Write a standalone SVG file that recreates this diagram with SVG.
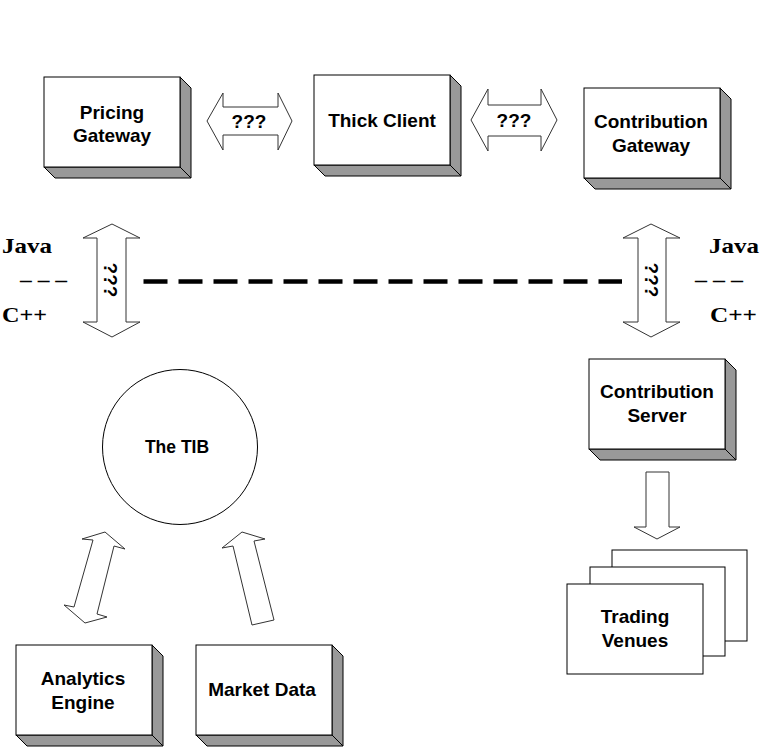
<svg xmlns="http://www.w3.org/2000/svg" xmlns:xlink="http://www.w3.org/1999/xlink" width="762" height="747" viewBox="0 0 762 747">
<style>
  .face{fill:#ffffff;stroke:#000000;stroke-width:1}
  .shade{fill:#999999;stroke:#000000;stroke-width:1;stroke-linejoin:miter}
  .lbl{font-family:"Liberation Sans",Arial,sans-serif;font-weight:bold;font-size:19px;fill:#000000;text-anchor:middle}
  .lang{font-family:"Liberation Serif","Times New Roman",serif;font-weight:bold;font-size:21px;fill:#000000}
  .arr{fill:#ffffff;stroke:#333333;stroke-width:1;stroke-linejoin:miter}
  .dash{fill:none;stroke:#000000;stroke-width:4.5;stroke-dasharray:24 11}
</style>
<defs>
  <g id="box3d">
    <polygon class="shade" points="136,0 147,11 147,101 136,90"/>
    <polygon class="shade" points="0,90 136,90 147,101 11,101"/>
    <rect class="face" x="0" y="0" width="136" height="90"/>
  </g>
</defs>

<g id="connectors">
  <path class="arr" d="M207,121 L223,93 L223,107 L278,107 L278,93 L292,121 L278,150 L278,135 L223,135 L223,150 Z"/>
  <text class="lbl" x="249" y="128">???</text>
  <path class="arr" d="M471,120 L488,89 L488,105 L541,105 L541,89 L557,120 L541,151 L541,136 L488,136 L488,151 Z"/>
  <text class="lbl" x="514" y="127">???</text>
  <path class="arr" d="M112,224 L140,238 L126,238 L126,322 L140,322 L112,337 L83,322 L97,322 L97,238 L83,238 Z"/>
  <text class="lbl" x="0" y="0" dominant-baseline="central" transform="translate(110,280) rotate(90)">???</text>
  <path class="arr" d="M651,224 L680,238 L666,238 L666,322 L680,322 L651,337 L623,322 L638,322 L638,238 L623,238 Z"/>
  <text class="lbl" x="0" y="0" dominant-baseline="central" transform="translate(651,280) rotate(90)">???</text>
  <line class="dash" x1="143.5" y1="281.5" x2="622" y2="281.5"/>
  <path class="arr" d="M105,532 L125,549 L114,546 L97,614 L107,617 L85,623 L64,605 L74,607 L93,540 L82,539 Z"/>
  <path class="arr" d="M242,532 L265,539 L254,541 L274,620 L252,625 L233,546 L222,548 Z"/>
  <path class="arr" d="M646,472 L669,472 L669,527 L680,527 L657,539 L634,527 L646,527 Z"/>
</g>

<g id="lang-left">
  <text class="lang" x="2" y="253" textLength="50" lengthAdjust="spacingAndGlyphs">Java</text>
  <text class="lang" x="20" y="287" textLength="47" lengthAdjust="spacingAndGlyphs">– – –</text>
  <text class="lang" x="2" y="322" textLength="45" lengthAdjust="spacingAndGlyphs">C++</text>
</g>
<g id="lang-right">
  <text class="lang" x="709" y="253" textLength="50" lengthAdjust="spacingAndGlyphs">Java</text>
  <text class="lang" x="695" y="287" textLength="48" lengthAdjust="spacingAndGlyphs">– – –</text>
  <text class="lang" x="710" y="322" textLength="47" lengthAdjust="spacingAndGlyphs">C++</text>
</g>

<g id="pricing-gateway">
  <use xlink:href="#box3d" href="#box3d" transform="translate(44,77)"/>
  <text class="lbl" x="112" y="119">Pricing</text>
  <text class="lbl" x="112" y="142">Gateway</text>
</g>
<g id="thick-client">
  <use xlink:href="#box3d" href="#box3d" transform="translate(314,75)"/>
  <text class="lbl" x="382" y="126.5">Thick Client</text>
</g>
<g id="contribution-gateway">
  <use xlink:href="#box3d" href="#box3d" transform="translate(584,88)"/>
  <text class="lbl" x="651" y="128">Contribution</text>
  <text class="lbl" x="651" y="152">Gateway</text>
</g>
<g id="contribution-server">
  <use xlink:href="#box3d" href="#box3d" transform="translate(589,359)"/>
  <text class="lbl" x="657" y="398">Contribution</text>
  <text class="lbl" x="657" y="421.5">Server</text>
</g>
<g id="the-tib">
  <circle cx="180" cy="447" r="77.5" fill="#ffffff" stroke="#000000" stroke-width="1"/>
  <text class="lbl" x="177" y="453" style="font-size:17.5px">The TIB</text>
</g>
<g id="trading-venues">
  <rect class="face" x="612" y="550" width="135" height="91"/>
  <rect class="face" x="590" y="567" width="135" height="89"/>
  <rect class="face" x="567" y="584" width="136" height="90"/>
  <text class="lbl" x="635" y="622.5">Trading</text>
  <text class="lbl" x="635" y="646.5">Venues</text>
</g>
<g id="analytics-engine">
  <use xlink:href="#box3d" href="#box3d" transform="translate(16,645)"/>
  <text class="lbl" x="83" y="685">Analytics</text>
  <text class="lbl" x="83" y="708.5">Engine</text>
</g>
<g id="market-data">
  <use xlink:href="#box3d" href="#box3d" transform="translate(196,645)"/>
  <text class="lbl" x="262" y="696">Market Data</text>
</g>
</svg>
